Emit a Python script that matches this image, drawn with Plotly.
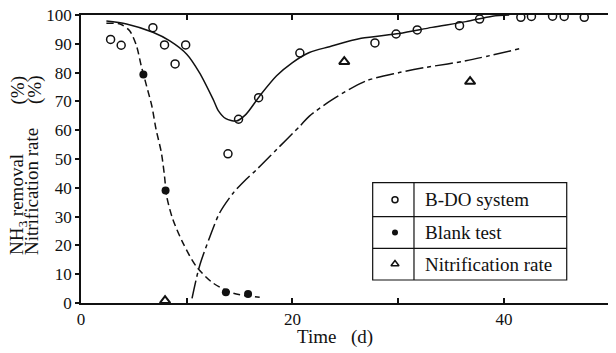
import plotly.graph_objects as go

# ---- data ----
bdo_t = [2.8, 3.8, 6.8, 7.9, 8.9, 9.9, 13.9, 14.9, 16.8, 20.7, 27.8, 29.8, 31.8, 35.8, 37.7, 41.6, 42.6, 44.6, 45.7, 47.6]
bdo_v = [91.5, 89.5, 95.6, 89.6, 83.0, 89.6, 51.8, 63.8, 71.3, 86.8, 90.3, 93.4, 94.8, 96.3, 98.6, 99.2, 99.5, 99.6, 99.5, 99.2]

blank_t = [5.9, 8.0, 13.7, 15.8]
blank_v = [79.3, 39.1, 3.7, 3.1]

nit_t = [7.95, 24.9, 36.8]
nit_v = [0.8, 83.8, 76.9]

# fitted curves
bdo_fit_t = [2.4, 4.3, 6.8, 8.4, 10.0, 11.2, 12.5, 13.0, 13.7, 14.7, 15.6, 16.9, 18.5, 20.0, 21.6, 23.5, 26.5, 30.1, 33.2, 36.4, 38.9, 40.5]
bdo_fit_v = [97.9, 96.9, 94.0, 91.0, 86.4, 80.0, 70.7, 66.7, 64.0, 63.2, 65.5, 71.9, 78.9, 83.5, 87.0, 89.0, 91.9, 93.6, 95.7, 97.7, 99.6, 100.0]

blank_fit_t = [2.4, 3.7, 4.6, 5.25, 5.7, 6.2, 6.7, 7.1, 7.6, 7.9, 8.1, 8.7, 9.65, 10.9, 12.5, 14.4, 16.9]
blank_fit_v = [97.1, 96.9, 94.5, 89.3, 82.3, 75.4, 68.4, 60.3, 52.2, 44.0, 37.1, 28.9, 20.8, 12.7, 6.9, 3.4, 2.0]

nit_fit_t = [10.5, 11.2, 12.2, 13.1, 14.4, 15.6, 16.6, 18.5, 20.7, 21.6, 23.8, 26.95, 30.1, 32.6, 36.4, 41.6]
nit_fit_v = [1.6, 12.7, 23.1, 31.2, 38.2, 42.9, 46.3, 53.3, 61.4, 64.9, 70.7, 77.1, 80.0, 81.8, 84.1, 88.4]

x_ticks = [0, 10, 20, 30, 40, 50]
x_ticktext = ["0", "", "20", "", "40", ""]
y_ticks = [0, 10, 20, 30, 40, 50, 60, 70, 80, 90, 100]

legend_labels = ["B-DO system", "Blank test", "Nitrification rate"]

# ---- figure ----
FONT = "Liberation Serif"
INK = "#111111"

fig = go.Figure()

fig.add_trace(go.Scatter(x=bdo_fit_t, y=bdo_fit_v, mode="lines", line=dict(color=INK, width=1.5, shape="spline", smoothing=0.8)))
fig.add_trace(go.Scatter(x=blank_fit_t, y=blank_fit_v, mode="lines", line=dict(color=INK, width=1.5, dash="7px,4px", shape="spline", smoothing=0.8)))
fig.add_trace(go.Scatter(x=nit_fit_t, y=nit_fit_v, mode="lines", yaxis="y2", line=dict(color=INK, width=1.5, dash="18px,4px,4px,4px", shape="spline", smoothing=0.8)))

fig.add_trace(go.Scatter(x=bdo_t, y=bdo_v, mode="markers", marker=dict(symbol="circle-open", size=8, color=INK, line=dict(width=1.5))))
fig.add_trace(go.Scatter(x=blank_t, y=blank_v, mode="markers", marker=dict(symbol="circle", size=8, color=INK)))
fig.add_trace(go.Scatter(x=nit_t, y=nit_v, mode="markers", yaxis="y2", marker=dict(symbol="triangle-up-open", size=9, color=INK, line=dict(width=2))))

# legend symbols on an overlay unit axis
leg_x = 0.5869
leg_rows = [0.3587, 0.2448, 0.1354]
fig.add_trace(go.Scatter(x=[leg_x], y=[leg_rows[0]], xaxis="x2", yaxis="y3", mode="markers",
                         marker=dict(symbol="circle-open", size=6, color=INK, line=dict(width=1.5))))
fig.add_trace(go.Scatter(x=[leg_x], y=[leg_rows[1]], xaxis="x2", yaxis="y3", mode="markers",
                         marker=dict(symbol="circle", size=6, color=INK)))
fig.add_trace(go.Scatter(x=[leg_x], y=[leg_rows[2]], xaxis="x2", yaxis="y3", mode="markers",
                         marker=dict(symbol="triangle-up-open", size=7, color=INK, line=dict(width=1.5))))

shapes = [
    dict(type="rect", xref="paper", yref="paper", x0=0.5452, x1=0.9079, y0=0.0799, y1=0.4177,
         line=dict(color=INK, width=1.2)),
    dict(type="line", xref="paper", yref="paper", x0=0.5452, x1=0.9079, y0=0.2997, y1=0.2997,
         line=dict(color=INK, width=1.2)),
    dict(type="line", xref="paper", yref="paper", x0=0.5452, x1=0.9079, y0=0.1899, y1=0.1899,
         line=dict(color=INK, width=1.2)),
    dict(type="line", xref="paper", yref="paper", x0=0.6224, x1=0.6224, y0=0.0799, y1=0.4177,
         line=dict(color=INK, width=1.2)),
]

annotations = []
for lab, ry in zip(legend_labels, leg_rows):
    annotations.append(dict(text=lab, xref="paper", yref="paper", x=0.6393, y=ry, xanchor="left",
                            yanchor="middle", showarrow=False, font=dict(family=FONT, size=19, color=INK)))

# y-axis title (two lines + units)
annotations += [
    dict(text="NH<sub>3</sub> removal", xref="paper", yref="paper", x=-0.1187, y=0.1597, xanchor="center",
         yanchor="bottom", textangle=-90, showarrow=False, font=dict(family=FONT, size=19, color=INK)),
    dict(text="Nitrification rate", xref="paper", yref="paper", x=-0.0925, y=0.1597, xanchor="center",
         yanchor="bottom", textangle=-90, showarrow=False, font=dict(family=FONT, size=19, color=INK)),
    dict(text="(%)", xref="paper", yref="paper", x=-0.1187, y=0.7396, xanchor="center",
         yanchor="middle", textangle=-90, showarrow=False, font=dict(family=FONT, size=19, color=INK)),
    dict(text="(%)", xref="paper", yref="paper", x=-0.0860, y=0.7396, xanchor="center",
         yanchor="middle", textangle=-90, showarrow=False, font=dict(family=FONT, size=19, color=INK)),
    # x-axis title
    dict(text="Time", xref="paper", yref="paper", x=0.4393, y=-0.118, xanchor="center",
         yanchor="middle", showarrow=False, font=dict(family=FONT, size=19, color=INK)),
    dict(text="(d)", xref="paper", yref="paper", x=0.5252, y=-0.118, xanchor="center",
         yanchor="middle", showarrow=False, font=dict(family=FONT, size=19, color=INK)),
]

# the page body adds an 8px offset, so the figure is 8px smaller and left/top margins shifted
fig.update_layout(
    width=608, height=345,
    margin=dict(l=73, r=0, t=7, b=50),
    template="none",
    paper_bgcolor="white", plot_bgcolor="white",
    showlegend=False,
    font=dict(family=FONT, size=17, color=INK),
    shapes=shapes,
    annotations=annotations,
    xaxis=dict(range=[0, 50.6], tickvals=x_ticks, ticktext=x_ticktext, ticks="inside", ticklen=5,
               tickwidth=1.5, tickcolor=INK, showline=True, linecolor=INK, linewidth=1.8, mirror="ticks",
               showgrid=False, zeroline=False, tickfont=dict(family=FONT, size=17, color=INK)),
    yaxis=dict(range=[0, 100], tickvals=y_ticks, ticks="outside", ticklen=4, tickwidth=1.5, tickcolor=INK,
               showline=True, linecolor=INK, linewidth=1.8, showgrid=False, zeroline=False,
               ticklabeloverflow="allow", tickfont=dict(family=FONT, size=17, color=INK)),
    yaxis2=dict(range=[0, 100], tickvals=y_ticks, overlaying="y", side="right", ticks="inside", ticklen=5,
                tickwidth=1.5, tickcolor=INK, showline=True, linecolor=INK, linewidth=1.8,
                showticklabels=False, showgrid=False, zeroline=False),
    xaxis2=dict(range=[0, 1], overlaying="x", visible=False),
    yaxis3=dict(range=[0, 1], overlaying="y", visible=False),
)

fig.write_html("out.html")
